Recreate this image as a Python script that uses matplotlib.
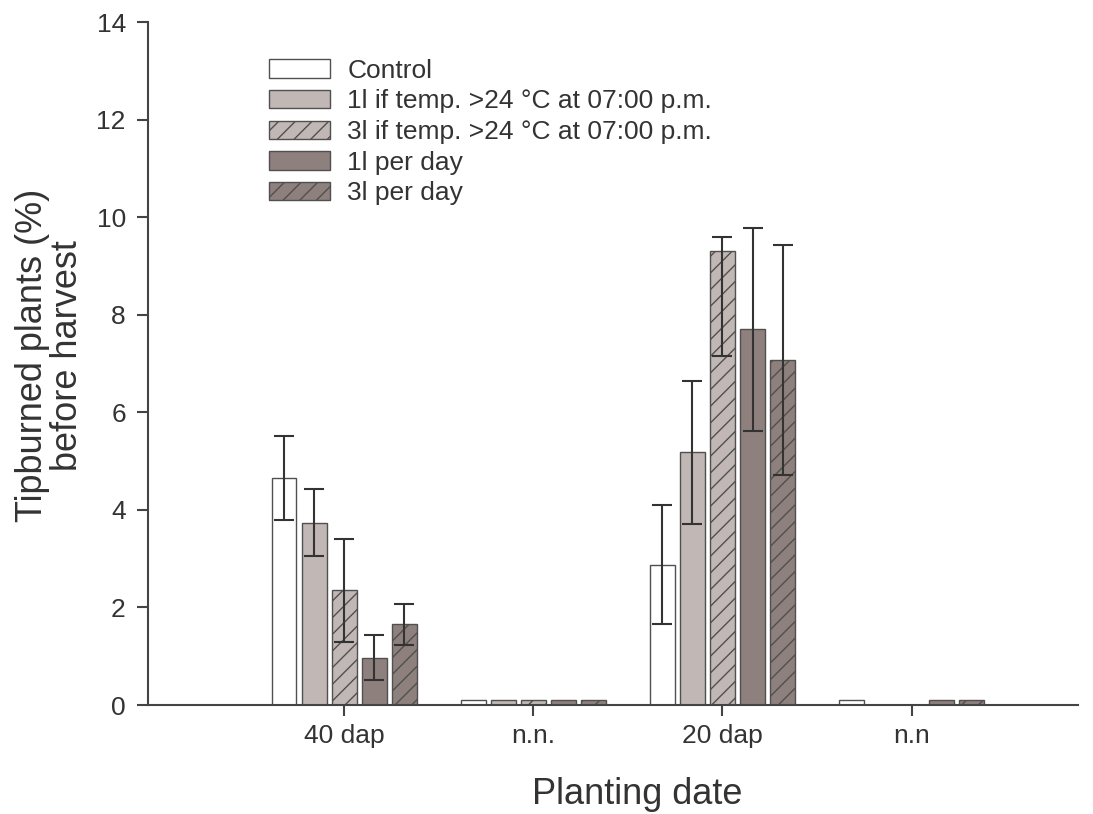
"""Tipburn before harvest, grouped bars."""

import numpy as np
import matplotlib.pyplot as plt

plt.rcParams["font.family"] = ["Liberation Sans", "DejaVu Sans"]
plt.rcParams["hatch.linewidth"] = 1.0

categories = ["40 dap", "n.n.", "20 dap", "n.n"]
labels = [
    "Control",
    "1l if temp. >24 °C at 07:00 p.m.",
    "3l if temp. >24 °C at 07:00 p.m.",
    "1l per day",
    "3l per day",
]
control = [4.65, 0.1, 2.88, 0.1]
control_err = [0.86, 0, 1.22, 0]
temp_1l = [3.74, 0.1, 5.18, 0]
temp_1l_err = [0.69, 0, 1.47, 0]
temp_3l = [2.35, 0.1, 9.30, 0]
temp_3l_err_low = [1.05, 0, 2.15, 0]
temp_3l_err_high = [1.05, 0, 0.30, 0]
day_1l = [0.97, 0.1, 7.70, 0.1]
day_1l_err = [0.46, 0, 2.08, 0]
day_3l = [1.66, 0.1, 7.07, 0.1]
day_3l_err = [0.42, 0, 2.35, 0]

series = [
    (control, control_err, control_err),
    (temp_1l, temp_1l_err, temp_1l_err),
    (temp_3l, temp_3l_err_low, temp_3l_err_high),
    (day_1l, day_1l_err, day_1l_err),
    (day_3l, day_3l_err, day_3l_err),
]
faces = ["white", "#c1b7b4", "#c1b7b4", "#8e807c", "#8e807c"]
hatches = [None, None, "//", None, "//"]

fig = plt.figure(figsize=(10.93, 8.14), dpi=100)
ax = fig.add_axes([0.1354, 0.1339, 0.851, 0.839])

x = np.arange(len(categories))
step, width = 0.159, 0.132
for i, (vals, lo, hi) in enumerate(series):
    pos = x + (i - 2) * step
    ax.bar(pos, vals, width, color=faces[i], edgecolor="#505050",
           linewidth=1.0, hatch=hatches[i], label=labels[i], zorder=2)
    lo, hi, vals = np.array(lo), np.array(hi), np.array(vals)
    m = (lo > 0) | (hi > 0)
    ax.errorbar(pos[m], vals[m], yerr=[lo[m], hi[m]], fmt="none",
                ecolor="#333333", elinewidth=1.5, capsize=7.5, capthick=1.5,
                zorder=3)

ax.set_xlim(-1.037, 3.88)
ax.set_ylim(0, 14)
ax.set_yticks(range(0, 15, 2))
ax.set_xticks(x)
ax.set_xticklabels(categories)
for s in ["top", "right"]:
    ax.spines[s].set_visible(False)
for s in ["left", "bottom"]:
    ax.spines[s].set_linewidth(1.5)
    ax.spines[s].set_color("#444444")
ax.tick_params(axis="both", direction="out", length=8, width=1.5,
               color="#444444", labelsize=19, labelcolor="#333333")
ax.tick_params(axis="x", pad=6)
ax.tick_params(axis="y", pad=8)

ax.set_xlabel("Planting date", fontsize=26, color="#333333")
ax.xaxis.set_label_coords(0.526, -0.105)
ax.set_ylabel("Tipburned plants (%)\nbefore harvest", fontsize=26,
              color="#333333", linespacing=1.0)
ax.yaxis.set_label_coords(-0.0676, 0.512)

ax.legend(loc="upper left", bbox_to_anchor=(0.105, 0.981), frameon=False,
          fontsize=19, handlelength=2.3, handleheight=0.7,
          labelspacing=0.25, handletextpad=0.65, labelcolor="#333333")

fig.savefig("out.png", dpi=100)
